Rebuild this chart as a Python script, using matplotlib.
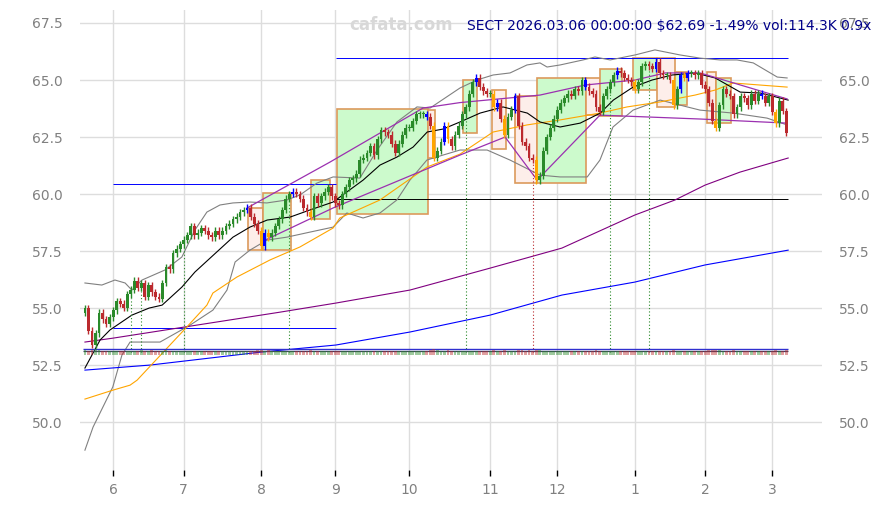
import numpy as np
import pandas as pd
import matplotlib
matplotlib.use('Agg')
from matplotlib import pyplot as plt
from matplotlib.patches import Rectangle

# trading days
holidays = ['2025-05-26', '2025-06-19', '2025-07-04', '2025-09-01', '2025-11-27',
            '2025-12-25', '2026-01-01', '2026-01-19', '2026-02-16']
dates = pd.bdate_range('2025-05-20', '2026-03-06')
dates = dates[~dates.isin(pd.to_datetime(holidays))]

closes = [55.0, 54.0, 53.4, 53.9, 54.8, 54.5, 54.3, 54.6, 54.9, 55.3,
          55.2, 55.0, 55.6, 55.8, 56.2, 55.9, 56.1, 55.5, 56.0, 55.7,
          55.5, 55.4, 56.1, 56.8, 56.7, 57.4, 57.6, 57.8, 58.0, 58.2,
          58.6, 58.2, 58.3, 58.5, 58.4, 58.2, 58.1, 58.4, 58.2, 58.4,
          58.6, 58.7, 58.9, 59.0, 59.2, 59.3, 59.4, 59.0, 58.7, 58.4,
          57.7, 58.3, 58.1, 58.3, 58.6, 58.9, 59.3, 59.8, 60.0, 60.1,
          60.0, 59.8, 59.4, 59.2, 59.0, 59.9, 59.6, 59.9, 60.1, 60.3,
          59.9, 59.6, 59.5, 60.0, 60.3, 60.6, 60.7, 60.9, 61.5, 61.6,
          61.8, 62.1, 61.7, 62.4, 62.8, 62.7, 62.6, 62.2, 61.8, 62.2,
          62.6, 62.9, 62.9, 63.2, 63.5, 63.5, 63.5, 63.4, 63.0, 61.6,
          61.9, 62.3, 63.0, 62.4, 62.1, 62.6, 63.0, 63.5, 63.8, 64.4,
          64.9, 65.1, 64.7, 64.5, 64.4, 64.4, 63.8, 64.0, 63.3, 62.6,
          63.4, 63.7, 64.3, 63.0, 62.3, 62.1, 61.6, 61.5, 60.6, 60.8,
          61.9, 62.5, 62.9, 63.3, 63.7, 64.0, 64.2, 64.4, 64.3, 64.6,
          64.5, 65.0, 64.7, 64.5, 64.4, 63.8, 63.6, 64.3, 64.6, 64.9,
          65.2, 65.4, 65.3, 65.1, 65.0, 64.9, 64.6, 64.9, 65.6, 65.7,
          65.6, 65.5, 65.8, 65.3, 65.2, 65.2, 65.0, 63.9, 64.6, 65.2,
          65.1, 65.3, 65.3, 65.2, 65.3, 64.8, 64.6, 64.0, 63.2, 62.9,
          63.9, 64.6, 64.4, 64.3, 63.5, 63.8, 64.3, 64.2, 63.9, 64.4,
          64.1, 64.4, 64.3, 64.0, 64.3, 63.6, 63.1, 64.1, 63.64, 62.69]
first_open = 54.8

volumes = [120, 110, 130, 150, 115, 100, 105, 110, 100, 105,
           110, 100, 95, 105, 110, 100, 120, 110, 100, 115,
           105, 110, 100, 120, 105, 110, 100, 95, 100, 105,
           110, 100, 95, 105, 100, 110, 100, 95, 105, 110,
           100, 105, 95, 100, 110, 100, 105, 110, 100, 120,
           130, 110, 115, 105, 100, 105, 110, 100, 105, 95,
           100, 110, 105, 100, 115, 110, 100, 105, 100, 110,
           105, 100, 110, 105, 100, 95, 105, 110, 100, 105,
           100, 110, 105, 100, 110, 100, 105, 110, 100, 105,
           110, 100, 105, 100, 95, 100, 105, 110, 115, 140,
           120, 110, 105, 115, 110, 105, 100, 105, 110, 100,
           105, 100, 110, 105, 100, 110, 115, 105, 110, 120,
           105, 100, 110, 115, 120, 110, 115, 105, 130, 115,
           110, 105, 100, 105, 100, 95, 100, 105, 100, 110,
           105, 100, 110, 105, 100, 115, 110, 105, 100, 105,
           110, 100, 105, 100, 95, 100, 110, 105, 100, 105,
           100, 95, 105, 100, 105, 100, 110, 125, 110, 105,
           100, 105, 100, 95, 100, 105, 110, 115, 120, 125,
           115, 105, 100, 105, 115, 105, 100, 105, 110, 100,
           105, 100, 105, 110, 100, 110, 125, 110, 105, 114.3]

blue_idx = [46, 51, 59, 97, 102, 111, 117, 122, 142, 151, 162, 169, 171, 192]
orange_idx = [50, 52, 64, 99, 103, 116, 119, 128, 156, 167, 170, 179, 196]

# moving averages / bands, read as (day index, price)
ma20_x = [0, 4.3, 7.1, 13.3, 18.2, 21.9, 27.5, 31.2, 35.5, 42.0, 46.8, 51.7, 58.2, 63.8, 70.4,
          78.9, 83.7, 88.5, 93.1, 97.1, 101.6, 106.4, 112.1, 118.6, 125.5, 129.1, 134.8, 140.5,
          146.2, 149.9, 155.5, 160.9, 166.6, 173.1, 178.8, 185.9, 191.6, 199.5]
ma20_y = [52.37, 53.6, 54.04, 54.69, 55.0, 55.13, 55.92, 56.58, 57.19, 58.11, 58.55, 58.86, 58.99,
          59.30, 59.65, 60.61, 61.27, 61.62, 62.06, 62.72, 62.85, 63.16, 63.55, 63.82, 63.55,
          63.16, 62.94, 63.11, 63.55, 64.12, 64.69, 65.0, 65.22, 65.31, 65.09, 64.47, 64.43, 64.12]

ma50_x = [0, 7.9, 12.8, 14.8, 28.9, 34.6, 36.3, 43.1, 52.5, 61.0, 70.4, 72.3, 83.7, 97.0, 106.4,
          115.8, 125.4, 134.8, 146.1, 153.8, 163.2, 173.1, 178.8, 183.9, 191.5, 199.2]
ma50_y = [51.01, 51.40, 51.62, 51.84, 54.17, 55.13, 55.66, 56.36, 57.11, 57.68, 58.51, 58.95,
          59.74, 61.18, 61.75, 62.72, 63.03, 63.25, 63.55, 63.82, 64.04, 64.34, 64.56, 64.87,
          64.78, 64.69]

ma100_x = [0, 7.9, 55.3, 71.2, 92.2, 114.9, 135.3, 156.0, 167.4, 175.9, 185.8, 199.5]
ma100_y = [53.51, 53.68, 54.82, 55.22, 55.79, 56.75, 57.63, 59.08, 59.74, 60.39, 60.96, 61.58]

ma200_x = [0, 18.4, 49.9, 71.2, 92.2, 114.9, 135.3, 156.0, 175.9, 199.5]
ma200_y = [52.28, 52.5, 53.07, 53.38, 53.95, 54.69, 55.57, 56.14, 56.89, 57.54]

bb_up_x = [0, 4.8, 8.5, 11.4, 13.3, 16.2, 22.7, 27.5, 31.2, 34.6, 38.3, 42.0, 46.8, 51.6, 57.3,
           61.0, 65.8, 70.4, 78.0, 82.9, 88.5, 94.2, 97.9, 106.4, 111.2, 115.8, 120.6, 125.4,
           129.1, 131.1, 134.8, 141.3, 144.7, 149.0, 156.1, 161.7, 168.8, 174.5, 180.2, 185.0,
           189.6, 196.4, 199.2]
bb_up_y = [56.10, 56.01, 56.23, 56.10, 55.79, 56.23, 56.67, 57.24, 58.42, 59.21, 59.52, 59.61,
           59.65, 59.61, 59.74, 59.96, 60.48, 60.75, 60.70, 61.93, 63.16, 63.82, 63.77, 64.65,
           65.0, 65.22, 65.31, 65.66, 65.75, 65.57, 65.66, 65.88, 66.01, 65.88, 66.10, 66.32,
           66.10, 65.96, 65.88, 65.88, 65.75, 65.13, 65.09]

bb_lo_x = [0, 2.3, 7.9, 10.5, 12.8, 21.3, 29.8, 36.3, 40.3, 42.6, 46.8, 51.6, 57.3, 63.8, 70.4,
           74.3, 78.9, 83.7, 88.5, 92.2, 97.0, 101.6, 106.4, 114.1, 120.6, 129.1, 134.8, 142.5,
           146.1, 149.8, 155.5, 163.2, 168.8, 174.5, 183.9, 193.5, 199.2]
bb_lo_y = [48.77, 49.78, 51.54, 52.94, 53.51, 53.51, 54.25, 54.91, 55.79, 57.02, 57.54, 57.98,
           58.11, 58.33, 58.55, 59.17, 58.95, 59.17, 59.74, 60.61, 61.49, 61.71, 61.93, 61.93,
           61.49, 60.83, 60.75, 60.75, 61.49, 62.94, 63.68, 64.12, 63.90, 63.68, 63.55, 63.33,
           63.03]

# trend lines
trend_up_x = [46.0, 69.5, 95.9, 106.4, 129.1, 141.9, 156.1, 164.6, 174.5, 199.2]
trend_up_y = [59.39, 61.40, 63.77, 64.01, 64.34, 64.78, 65.0, 65.31, 65.31, 64.17]
trend_lo_x = [49.9, 70.4, 106.4, 119.2, 128.3, 146.1, 174.5, 199.2]
trend_lo_y = [57.89, 59.39, 61.71, 62.5, 60.61, 63.46, 63.29, 63.11]

# horizontal levels: (start, end, price, colour)
levels = [(71.2, 199.5, 65.96, 'blue'), (7.9, 71.2, 60.44, 'blue'),
          (7.9, 71.2, 54.12, 'blue'), (71.2, 199.5, 59.78, 'black')]

# boxes: (start, end, low, high, kind)
boxes = [(46.3, 50.5, 57.54, 59.39, 'p'), (50.5, 58.5, 57.54, 60.04, 'g'),
         (64.1, 69.5, 58.90, 60.61, 'g'), (71.5, 97.3, 59.12, 63.73, 'g'),
         (97.3, 99.3, 61.58, 63.68, 'p'), (107.3, 111.2, 62.68, 65.0, 'g'),
         (115.5, 119.5, 61.97, 64.56, 'p'), (122.0, 128.3, 60.48, 64.30, 'p'),
         (128.3, 142.2, 60.48, 65.09, 'g'), (142.2, 146.1, 63.46, 65.09, 'p'),
         (146.1, 152.4, 63.42, 65.48, 'g'), (155.5, 162.3, 64.56, 65.96, 'g'),
         (162.3, 167.4, 63.82, 65.96, 'p'), (167.4, 170.8, 63.90, 65.35, 'g'),
         (176.5, 179.1, 63.11, 65.35, 'p'), (179.1, 183.3, 63.11, 65.09, 'g')]

signal_idx = [13, 16, 28, 58, 108, 127, 149, 160]
signal_col = ['g', 'g', 'g', 'g', 'g', 'r', 'g', 'g']

n = len(closes)
x = np.arange(n)
closes = np.array(closes)
opens = np.concatenate([[first_open], closes[:-1]])
highs = np.maximum(opens, closes) + 0.15
lows = np.minimum(opens, closes) - 0.15

GREEN = '#2a8a2a'
RED = '#bb2a2e'

fig = plt.figure(figsize=(8.81, 5.05), dpi=100)
ax = fig.add_axes([80 / 881, 1 - 470 / 505, 742 / 881, 460 / 505])

# boxes
for x0, x1, lo, hi, kind in boxes:
    fc = '#ccfacc' if kind == 'g' else '#fdeeea'
    ax.add_patch(Rectangle((x0, lo), x1 - x0, hi - lo, facecolor=fc, edgecolor='#dc9a5c',
                           linewidth=1.2, zorder=1))

# levels
for s, e, p, c in levels:
    ax.hlines(p, s, e, color=c, linewidth=0.7, zorder=2)

# lines
ax.plot(bb_up_x, bb_up_y, color='gray', linewidth=0.8, zorder=2)
ax.plot(bb_lo_x, bb_lo_y, color='gray', linewidth=0.8, zorder=2)
ax.plot(ma200_x, ma200_y, color='blue', linewidth=0.8, zorder=2)
ax.plot(ma100_x, ma100_y, color='purple', linewidth=0.8, zorder=2)
ax.plot(ma50_x, ma50_y, color='orange', linewidth=0.8, zorder=2)
ax.plot(ma20_x, ma20_y, color='black', linewidth=0.8, zorder=2)
ax.plot(trend_up_x, trend_up_y, color='#9b30b0', linewidth=0.9, zorder=2)
ax.plot(trend_lo_x, trend_lo_y, color='#9b30b0', linewidth=0.9, zorder=2)

# volume band
vol = np.array(volumes)
vbase = 52.93
vscale = 0.2 / vol.mean()
ax.hlines(vbase + 0.27, -0.5, n - 0.5, color='#3030d0', linewidth=1.0, zorder=3)
ax.hlines(vbase + 0.17, -0.5, n - 0.5, color='#404060', linewidth=0.9, zorder=3)
vcols = [GREEN if c >= o else RED for o, c in zip(opens, closes)]
ax.bar(x, vol * vscale, bottom=vbase, width=0.8, color=vcols, alpha=0.45, zorder=3)

# signal lines
for i, c in zip(signal_idx, signal_col):
    ax.vlines(i, vbase + 0.15, lows[i], color=GREEN if c == 'g' else RED,
              linewidth=0.8, linestyles=(0, (1, 2)), zorder=2)

# candles
cols = []
for i in range(n):
    if i in blue_idx:
        cols.append('blue')
    elif i in orange_idx:
        cols.append('orange')
    elif closes[i] >= opens[i]:
        cols.append(GREEN)
    else:
        cols.append(RED)
ax.vlines(x, lows, highs, color=cols, linewidth=1.0, zorder=4)
body = np.maximum(np.abs(closes - opens), 0.05)
ax.bar(x, body, bottom=np.minimum(opens, closes), width=0.8, color=cols, zorder=5)

# axes
ax.set_xlim(-1.4, 209.1)
ax.set_ylim(47.9, 68.07)
month_pos = [i for i in range(1, n) if dates[i].month != dates[i - 1].month]
ax.set_xticks(month_pos)
ax.set_xticklabels([str(dates[i].month) for i in month_pos])
ax.set_yticks([50.0, 52.5, 55.0, 57.5, 60.0, 62.5, 65.0, 67.5])
ax.set_yticklabels(['50.0', '52.5', '55.0', '57.5', '60.0', '62.5', '65.0', '67.5'])
ax.tick_params(axis='y', left=False, right=False, labelleft=True, labelright=True,
               labelsize=10, labelcolor='#808080', pad=9)
ax.tick_params(axis='x', length=4, width=1, color='black', labelsize=10,
               labelcolor='#808080', pad=5)
ax.grid(True, color='#dddddd', linewidth=1)
ax.set_axisbelow(True)
for s in ax.spines.values():
    s.set_visible(False)

fig.text(401 / 881, 1 - 25 / 505, 'cafata.com', color='#d8d8d8', fontsize=12,
         fontweight='bold', ha='center', va='center')
fig.text(871 / 881, 1 - 26 / 505, 'SECT 2026.03.06 00:00:00 $62.69 -1.49% vol:114.3K 0.9x',
         color='#000088', fontsize=10, ha='right', va='center')

plt.savefig('out.png', dpi=100)
